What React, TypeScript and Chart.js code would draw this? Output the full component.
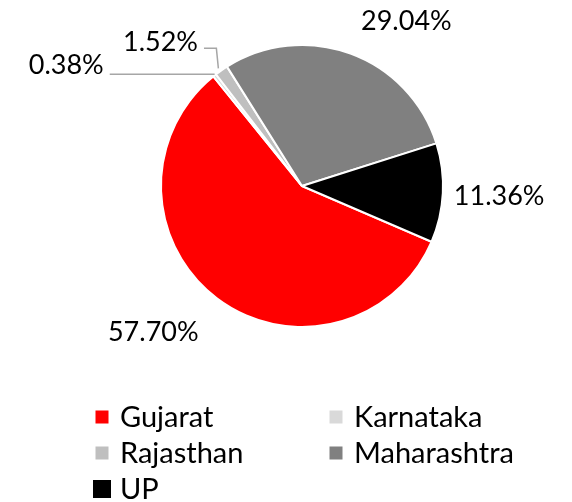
import React, { useEffect, useRef } from "react";
import { Chart, registerables } from "chart.js";

Chart.register(...registerables);

const categories = ["Gujarat", "Karnataka", "Rajasthan", "Maharashtra", "UP"];
const shares = [57.7, 0.38, 1.52, 29.04, 11.36];
const valueLabels = ["57.70%", "0.38%", "1.52%", "29.04%", "11.36%"];
const colors = ["#FF0000", "#D9D9D9", "#BFBFBF", "#808080", "#000000"];

// label placement relative to pie centre: angle shift (deg) from slice mid, distance factor of radius
const labelAngleShift = [8.3, -24.5, -9.7, 12.3, 0.1];
const labelDistance = [1.48, 1.88, 1.43, 1.38, 1.4];
const leaderLine = [false, true, true, false, false];
// legend grid: column, row
const legendCol = [0, 1, 0, 1, 0];
const legendRow = [0, 0, 1, 1, 2];
const legendBox = [13, 13, 13, 13, 18];

const FONT = "Lato, 'Open Sans', sans-serif";

const labelPlugin = {
  id: "sliceLabels",
  afterDatasetsDraw(chart: any) {
    const ctx = chart.ctx;
    const meta = chart.getDatasetMeta(0);
    ctx.save();
    ctx.font = `27px ${FONT}`;
    ctx.fillStyle = "#000000";
    ctx.textBaseline = "middle";
    ctx.textAlign = "center";
    meta.data.forEach((arc: any, i: number) => {
      const { x, y, startAngle, endAngle, outerRadius } = arc.getProps(
        ["x", "y", "startAngle", "endAngle", "outerRadius"],
        true
      );
      const mid = (startAngle + endAngle) / 2;
      const a = mid + (labelAngleShift[i] * Math.PI) / 180;
      const r = outerRadius * labelDistance[i];
      const lx = x + Math.cos(a) * r;
      const ly = y + Math.sin(a) * r;
      const text = valueLabels[i];
      const w = ctx.measureText(text).width;
      if (leaderLine[i]) {
        const px = x + Math.cos(mid) * outerRadius;
        const py = y + Math.sin(mid) * outerRadius;
        ctx.strokeStyle = "#A6A6A6";
        ctx.lineWidth = 1.5;
        ctx.beginPath();
        const endX = lx + w / 2 + 6;
        if (Math.abs(py - (ly + 6)) < 14) {
          ctx.moveTo(px, py - 1);
          ctx.lineTo(endX, py - 1);
        } else {
          const ey = ly + 6;
          ctx.moveTo(px - 3, py - 2);
          ctx.lineTo(px - 5, ey);
          ctx.lineTo(endX, ey);
        }
        ctx.stroke();
      }
      ctx.fillText(text, lx, ly);
    });
    ctx.restore();
  },
};

const legendPlugin = {
  id: "gridLegend",
  afterDraw(chart: any) {
    const ctx = chart.ctx;
    ctx.save();
    ctx.font = `29px ${FONT}`;
    ctx.textBaseline = "middle";
    ctx.textAlign = "left";
    const colX = [102, 336];
    const rowY = [417, 453, 489];
    categories.forEach((name, i) => {
      const cx = colX[legendCol[i]];
      const cy = rowY[legendRow[i]];
      const s = legendBox[i];
      ctx.fillStyle = colors[i];
      ctx.fillRect(cx - s / 2, cy - s / 2, s, s);
      ctx.fillStyle = "#000000";
      ctx.fillText(name, cx + 18, cy + 1);
    });
    ctx.restore();
  },
};

export default function App() {
  const ref = useRef<HTMLCanvasElement | null>(null);
  useEffect(() => {
    document.body.style.margin = "0";
    const chart = new Chart(ref.current as HTMLCanvasElement, {
      type: "pie",
      data: {
        labels: categories,
        datasets: [
          {
            data: shares,
            backgroundColor: colors,
            borderColor: "#FFFFFF",
            borderWidth: 2,
          },
        ],
      },
      options: {
        responsive: false,
        animation: false,
        rotation: 113.3,
        layout: { padding: { left: 160, right: 128, top: 44, bottom: 174 } },
        plugins: {
          legend: { display: false },
          tooltip: { enabled: false },
        },
      },
      plugins: [labelPlugin, legendPlugin],
    });
    return () => chart.destroy();
  }, []);
  return (
    <div style={{ width: 572, height: 502, background: "#fff" }}>
      <canvas ref={ref} width={572} height={502} />
    </div>
  );
}
